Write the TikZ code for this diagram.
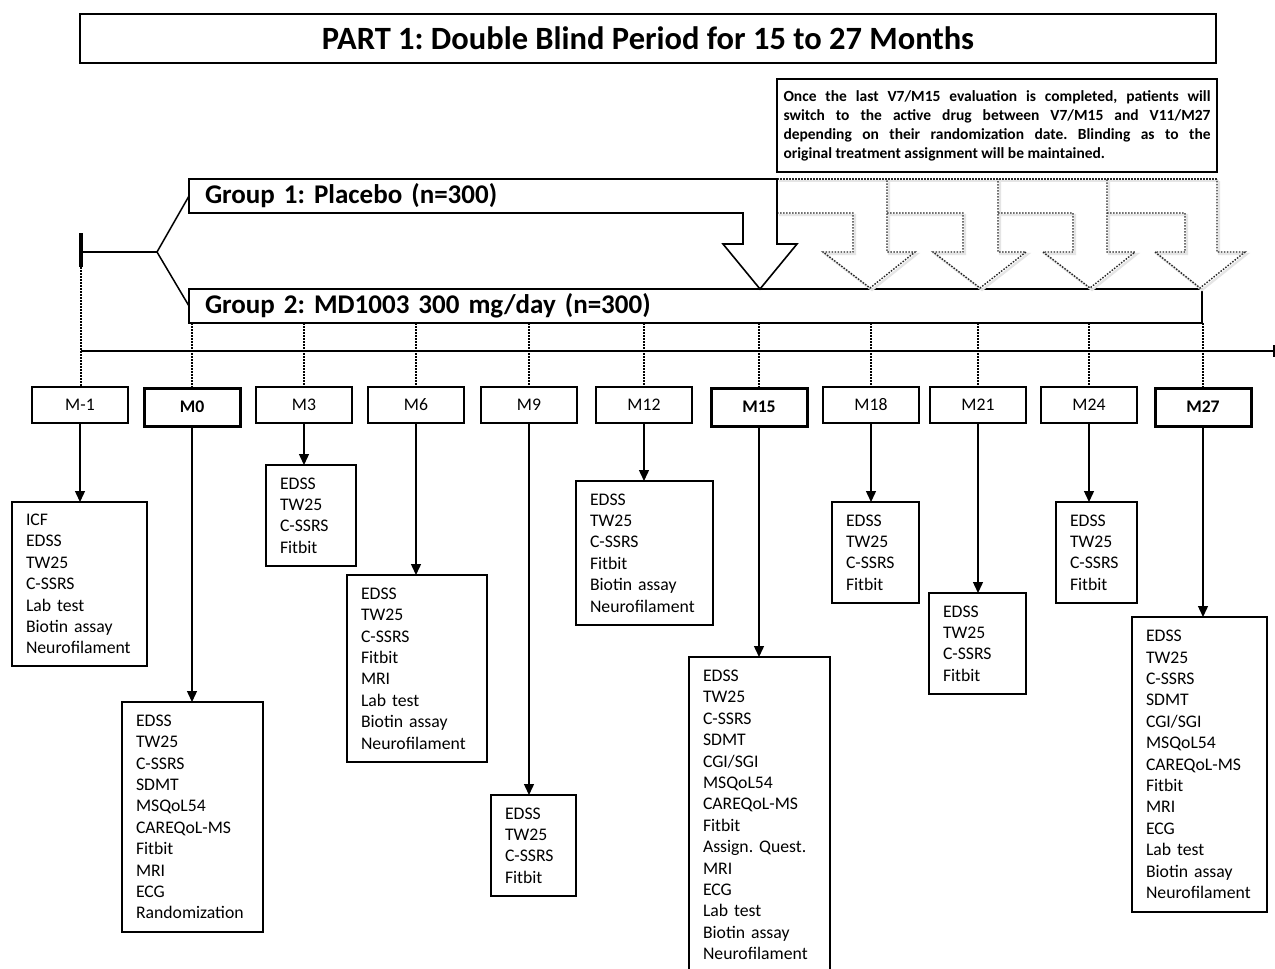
\documentclass[tikz,border=0pt]{standalone}
\usepackage{fontspec}
\setmainfont{Carlito}
\usetikzlibrary{arrows.meta}
\begin{document}
\frenchspacing
\begin{tikzpicture}[x=1pt,y=-1pt,
  outer sep=0pt,
  thinbox/.style={draw=black,line width=1.4pt},
  txt/.style={font=\fontsize{17.7}{21.4}\selectfont},
  mbox/.style={thinbox,txt,minimum width=96pt,minimum height=36pt,inner sep=0pt},
  mboxb/.style={mbox,line width=3pt,minimum height=38pt,font=\fontsize{17.7}{21.4}\selectfont\bfseries},
  lbox/.style={thinbox,txt,anchor=north west,inner xsep=14pt,inner ysep=0pt,align=left},
  grp/.style={anchor=north west,minimum height=34pt,inner xsep=16pt,inner ysep=0pt,align=left,font=\fontsize{27}{30}\selectfont\bfseries},
  arr/.style={line width=1.4pt,-{Triangle[length=11pt,width=10pt]}},
  dots/.style={line width=1.8pt,dash pattern=on 1.5pt off 1.5pt},
  darrow/.style={line width=1.4pt,draw=black!85,dash pattern=on 1.5pt off 1.5pt,line join=miter},
  dshadow/.style={line width=2.2pt,draw=black!10,line join=miter}
]
\clip (0,0) rectangle (1275,969);
\fill[white] (0,0) rectangle (1275,969);

% title and note
\node[draw,line width=1.8pt,anchor=north west,minimum width=1136pt,minimum height=49pt,inner sep=0pt,
      font=\fontsize{32.5}{38}\selectfont\bfseries] (title) at (80,14) {PART 1: Double Blind Period for 15 to 27 Months};
\node[draw,line width=1.8pt,anchor=north west,minimum width=440pt,minimum height=93pt,inner xsep=6.5pt,inner ysep=0pt,
      text width=427pt,align=justify,font=\fontsize{15.5}{19}\selectfont\bfseries] (note) at (777,79)
  {Once the last V7/M15 evaluation is completed, patients will\linebreak
   switch to the active drug between V7/M15 and V11/M27\linebreak
   depending on their randomization date. Blinding as to the\linebreak
   original treatment assignment will be maintained.};

% groups
\node[grp,minimum width=554pt,text width=522pt] (g1) at (189,179) {Group 1: Placebo (n=300)};
\node[grp,draw,line width=1.6pt,minimum width=1013pt,text width=981pt] (g2) at (189,289) {Group 2: MD1003 300 mg/day (n=300)};

% dotted switch arrows
\begin{scope}[xshift=2pt,yshift=-2pt]
\draw[dshadow] (777,179) -- (1217,179);
\foreach \p/\l/\r/\t in {777/853/887/870, 887/963/998/980, 998/1073/1107/1090, 1107/1185/1217/1200}
  \draw[dshadow] (\p,213) -- (\l,213) -- (\l,252) -- ({\l-30},252) -- (\t,288) -- ({\r+28},252) -- (\r,252) -- (\r,179);
\end{scope}
\draw[darrow] (777,179) -- (1217,179);
\foreach \p/\l/\r/\t in {777/853/887/870, 887/963/998/980, 998/1073/1107/1090, 1107/1185/1217/1200}
  \draw[darrow] (\p,213) -- (\l,213) -- (\l,252) -- ({\l-30},252) -- (\t,288) -- ({\r+28},252) -- (\r,252) -- (\r,179);

% group 1 arrow outline
\draw[line width=1.6pt,line join=miter,fill=white] (g1.north west) -- (777,179) -- (777,244) -- (797,244) -- (760,289)
  -- (723,244) -- (743,244) -- (g1.south east) -- (g1.south west) -- cycle;
\node[grp,minimum width=554pt,text width=522pt] at (189,179) {Group 1: Placebo (n=300)};

% randomisation bracket
\coordinate (bt) at (81,233);
\coordinate (bb) at (81,267);
\coordinate (bm) at (81,252);
\coordinate (split) at (157,252);
\draw[line width=3.2pt] (bt) -- (bb);
\draw[line width=1.5pt] (bm) -- (split);
\draw[line width=1.5pt] (split) -- (g1.west);
\draw[line width=1.5pt] (split) -- (g2.west);

% timeline
\coordinate (tl0) at (81,351);
\coordinate (tl1) at (1274,351);
\draw[line width=1.5pt] (tl0) -- (tl1);
\draw[line width=1.2pt] ([yshift=6pt]tl1) -- ([yshift=-6pt]tl1);

% month boxes
\node[mbox]  (mm1) at (80,405)   {M-1};
\node[mboxb] (m0)  at (192,407)  {M0};
\node[mbox]  (m3)  at (304,405)  {M3};
\node[mbox]  (m6)  at (416,405)  {M6};
\node[mbox]  (m9)  at (529,405)  {M9};
\node[mbox]  (m12) at (644,405)  {M12};
\node[mboxb] (m15) at (759,407)  {M15};
\node[mbox]  (m18) at (871,405)  {M18};
\node[mbox]  (m21) at (978,405)  {M21};
\node[mbox]  (m24) at (1089,405) {M24};
\node[mboxb] (m27) at (1203,407) {M27};

\draw[dots] (bb) -- (bb |- mm1.north);
\foreach \m in {m0,m3,m6,m9,m12,m15,m18,m21,m24,m27}
  \draw[dots] (\m.north |- g2.south) -- (\m.north);

% assessment lists
\node[lbox,minimum width=135pt,minimum height=164pt,text width=107pt] (lm1) at (12,502)
  {ICF\\EDSS\\TW25\\C-SSRS\\Lab test\\Biotin assay\\Neurofilament};
\node[lbox,minimum width=141pt,minimum height=230pt,text width=113pt] (l0) at (122,702)
  {EDSS\\TW25\\C-SSRS\\SDMT\\MSQoL54\\CAREQoL-MS\\Fitbit\\MRI\\ECG\\Randomization};
\node[lbox,minimum width=90pt,minimum height=101pt,text width=62pt] (l3) at (266,465)
  {EDSS\\TW25\\C-SSRS\\Fitbit};
\node[lbox,minimum width=140pt,minimum height=187pt,text width=112pt] (l6) at (347,575)
  {EDSS\\TW25\\C-SSRS\\Fitbit\\MRI\\Lab test\\Biotin assay\\Neurofilament};
\node[lbox,minimum width=85pt,minimum height=101pt,text width=57pt] (l9) at (491,795)
  {EDSS\\TW25\\C-SSRS\\Fitbit};
\node[lbox,minimum width=137pt,minimum height=144pt,text width=109pt] (l12) at (576,481)
  {EDSS\\TW25\\C-SSRS\\Fitbit\\Biotin assay\\Neurofilament};
\node[lbox,minimum width=141pt,minimum height=316pt,text width=113pt] (l15) at (689,657)
  {EDSS\\TW25\\C-SSRS\\SDMT\\CGI/SGI\\MSQoL54\\CAREQoL-MS\\Fitbit\\Assign. Quest.\\MRI\\ECG\\Lab test\\Biotin assay\\Neurofilament};
\node[lbox,minimum width=87pt,minimum height=101pt,text width=59pt] (l18) at (832,502)
  {EDSS\\TW25\\C-SSRS\\Fitbit};
\node[lbox,minimum width=97pt,minimum height=101pt,text width=69pt] (l21) at (929,593)
  {EDSS\\TW25\\C-SSRS\\Fitbit};
\node[lbox,minimum width=81pt,minimum height=101pt,text width=53pt] (l24) at (1056,502)
  {EDSS\\TW25\\C-SSRS\\Fitbit};
\node[lbox,minimum width=135pt,minimum height=295pt,text width=107pt] (l27) at (1132,617)
  {EDSS\\TW25\\C-SSRS\\SDMT\\CGI/SGI\\MSQoL54\\CAREQoL-MS\\Fitbit\\MRI\\ECG\\Lab test\\Biotin assay\\Neurofilament};

\foreach \m/\l in {mm1/lm1,m0/l0,m3/l3,m6/l6,m9/l9,m12/l12,m15/l15,m18/l18,m21/l21,m24/l24,m27/l27}
  \draw[arr] (\m.south) -- (\m.south |- \l.north);
\end{tikzpicture}
\end{document}
